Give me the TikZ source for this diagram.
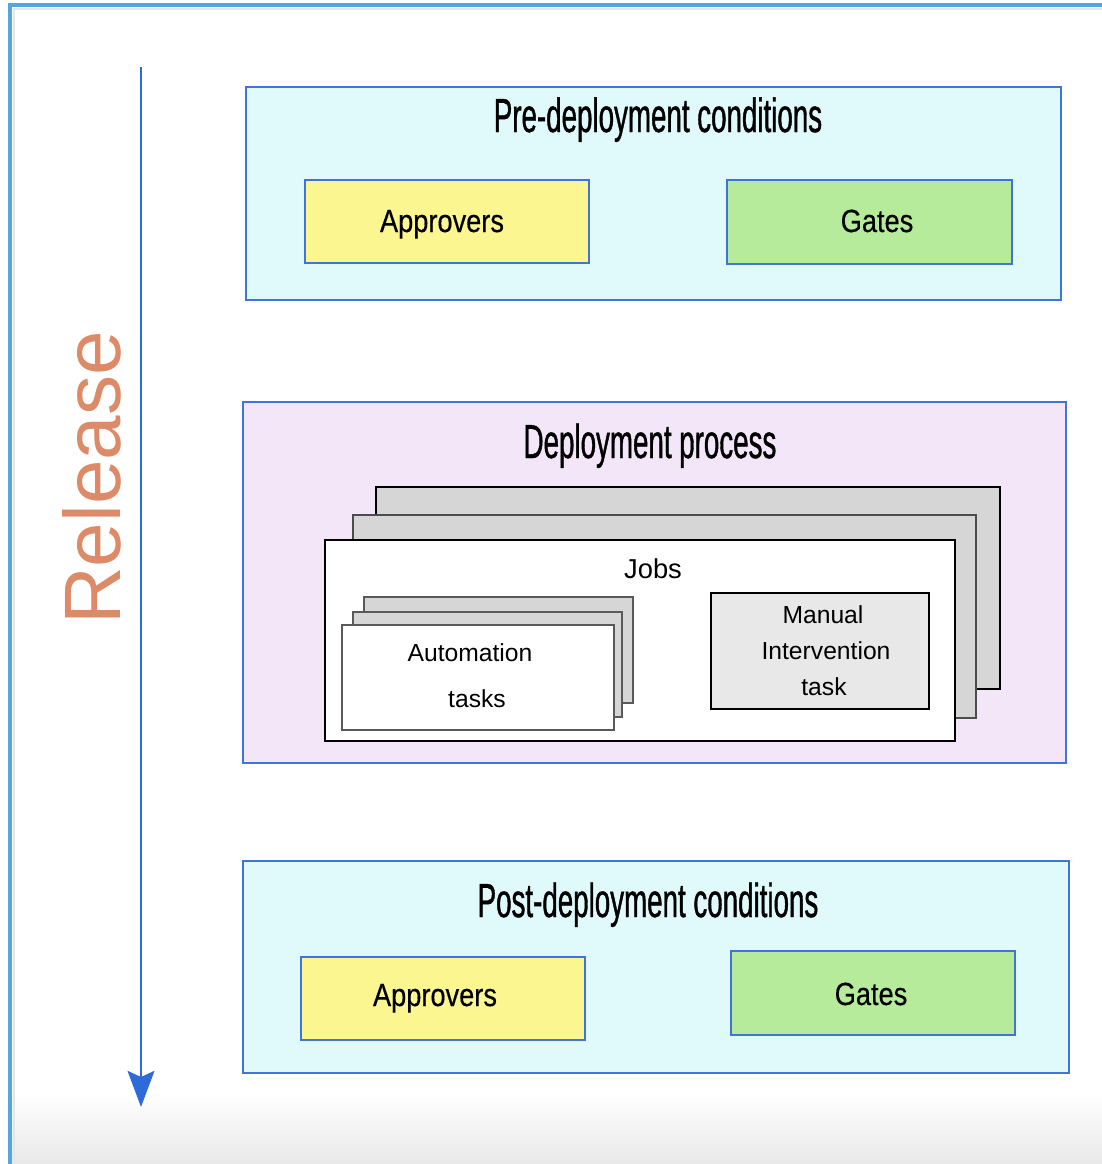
\documentclass[tikz,border=0pt]{standalone}
\usepackage{fontspec}
\usepackage{graphicx}
\setmainfont{Liberation Sans}
\newfontfamily\titlefont[FakeStretch=0.64,FakeBold=0.9]{Liberation Sans}
\newfontfamily\labfont[FakeStretch=0.85,FakeBold=0.4]{Liberation Sans}
\newcommand{\tallify}[1]{\scalebox{1}[1.1]{#1}}
\usetikzlibrary{fit,arrows.meta}
\definecolor{bord}{HTML}{3F74D9}
\definecolor{framecol}{HTML}{55A6DC}
\definecolor{arrowcol}{HTML}{2F6AD9}
\definecolor{relcol}{HTML}{DC8A68}
\definecolor{cyanfill}{HTML}{E0FAFC}
\definecolor{lavfill}{HTML}{F2E6F8}
\definecolor{yelfill}{HTML}{FBF68F}
\definecolor{grnfill}{HTML}{B6EB9B}
\definecolor{stackgray}{HTML}{D6D6D6}
\definecolor{manfill}{HTML}{E8E8E8}
\begin{document}
\begin{tikzpicture}[x=0.75pt,y=-0.75pt,
  region/.style={draw=bord,line width=2pt,inner sep=0pt},
  jobback/.style={draw=black,line width=1.6pt,fill=stackgray,inner sep=0pt},
  jobmid/.style={draw=black!70,line width=1.2pt,fill=stackgray,inner sep=0pt},
  taskback/.style={draw=black!65,line width=1pt,fill=stackgray,inner sep=0pt},
  title/.style={anchor=base,font=\titlefont\fontsize{32.5}{36}\selectfont,inner sep=0pt},
  lab/.style={anchor=base,font=\labfont\fontsize{24}{28}\selectfont,inner sep=0pt},
  inner/.style={anchor=base,font=\fontsize{18.5}{22}\selectfont,inner sep=0pt}]
\useasboundingbox (0,0) rectangle (1102,1164);
\fill[white] (0,0) rectangle (1102,1164);
\shade[top color=white,bottom color=black!9] (12,1095) rectangle (1102,1164);
\draw[framecol,line width=2.4pt] (10,1164) -- (10,5) -- (1102,5);
\draw[black!10,line width=0.8pt] (14,1164) -- (14,9) -- (1102,9);

% release arrow
\coordinate (aS) at (141,67);
\coordinate (aE) at (141,1107);
\draw[arrowcol,line width=2.2pt,-{Stealth[length=27pt,width=20pt,inset=4.5pt]}] (aS) -- (aE);
\node[rotate=90,anchor=base,text=relcol,font=\fontsize{60}{62}\selectfont,inner sep=0pt] (rel) at (120,478) {Release};

% pre-deployment
\node[region,fill=cyanfill,fit={(246,87)(1061,300)}] (pre) {};
\node[title] (pret) at (658,132) {\tallify{Pre-deployment conditions}};
\node[region,fill=yelfill,fit={(305,180)(589,263)}] (preA) {};
\node[lab] (preAt) at (442,232) {Approvers};
\node[region,fill=grnfill,fit={(727,180)(1012,264)}] (preG) {};
\node[lab] (preGt) at (877,232) {Gates};

% deployment process
\node[region,fill=lavfill,fit={(243,402)(1066,763)}] (dep) {};
\node[title] (dept) at (650,458) {\tallify{Deployment process}};
\node[jobback,fit={(376,487)(1000,689)}] (job3) {};
\node[jobmid,fit={(353,515)(976,718)}] (job2) {};
\node[jobback,fill=white,fit={(325,540)(955,741)}] (job1) {};
\node[inner,font=\fontsize{20.5}{24}\selectfont] (jobt) at (653,578) {Jobs};
\node[taskback,fit={(364,597)(633,703)}] (task3) {};
\node[taskback,fit={(353,612)(622,717)}] (task2) {};
\node[taskback,fill=white,fit={(342,625)(614,730)}] (task1) {};
\node[inner] (taskt1) at (470,661) {Automation};
\node[inner] (taskt2) at (477,707) {tasks};
\node[jobback,fill=manfill,fit={(711,593)(929,709)}] (man) {};
\node[inner] (mant1) at (823,623) {Manual};
\node[inner] (mant2) at (826,659) {Intervention};
\node[inner] (mant3) at (824,695) {task};

% post-deployment
\node[region,fill=cyanfill,fit={(243,861)(1069,1073)}] (post) {};
\node[title] (postt) at (648,917) {\tallify{Post-deployment conditions}};
\node[region,fill=yelfill,fit={(301,957)(585,1040)}] (postA) {};
\node[lab] (postAt) at (435,1006) {Approvers};
\node[region,fill=grnfill,fit={(731,951)(1015,1035)}] (postG) {};
\node[lab] (postGt) at (871,1005) {Gates};
\end{tikzpicture}
\end{document}
